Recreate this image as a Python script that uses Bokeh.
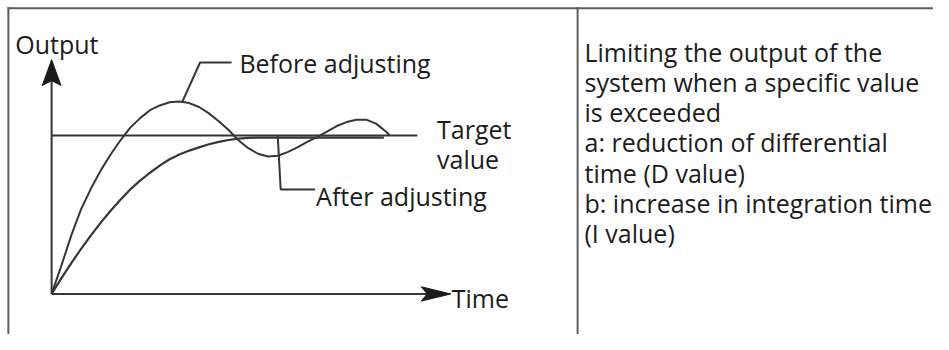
from bokeh.plotting import figure
from bokeh.models import Range1d, Label
from bokeh.embed import file_html
from bokeh.resources import INLINE

# ---- data (time in arbitrary units, output relative to target value) ----
time_before = [0, 0.125, 0.25, 0.5, 0.75, 1, 1.25, 1.5, 1.75, 2, 2.25, 2.5,
               2.75, 3, 3.25, 3.5, 3.75, 4, 4.25, 4.5, 4.75, 5, 5.25, 5.5,
               5.75, 6, 6.25, 6.5, 6.75, 7, 7.25, 7.5, 7.75, 8, 8.25, 8.5, 8.6]
output_before = [0, 0.09, 0.18, 0.37, 0.535, 0.665, 0.78, 0.88, 0.97, 1.05,
                 1.11, 1.16, 1.19, 1.21, 1.215, 1.205, 1.18, 1.14, 1.09, 1.035,
                 0.97, 0.92, 0.885, 0.868, 0.872, 0.895, 0.925, 0.96, 0.99,
                 1.025, 1.06, 1.085, 1.1, 1.1, 1.075, 1.025, 1.0]
time_after = [0, 0.25, 0.5, 0.75, 1, 1.25, 1.5, 1.75, 2, 2.25, 2.5, 2.75, 3,
              3.25, 3.5, 3.75, 4, 4.25, 4.5, 4.75, 5, 5.25, 8.45]
output_after = [0, 0.1, 0.195, 0.285, 0.37, 0.45, 0.525, 0.595, 0.66, 0.715,
                0.765, 0.81, 0.85, 0.88, 0.905, 0.925, 0.945, 0.96, 0.972,
                0.98, 0.985, 0.987, 0.987]
target_value = 1.0
target_time = [0, 9.3]

labels_axis = ["Output", "Time"]
label_before = "Before adjusting"
label_after = "After adjusting"
label_target = ["Target", "value"]
notes = ["Limiting the output of the",
         "system when a specific value",
         "is exceeded",
         "a: reduction of differential",
         "time (D value)",
         "b: increase in integration time",
         "(I value)"]

# ---- layout helpers (reference-pixel -> data units) ----
W, H = 933, 334
REF_W, REF_H = 949, 350
T0, Y0 = 52, 307.5        # origin in reference pixels
XS, YS = 40.0, 166.0      # px per time unit / per output unit


def px(X):
    return (X - T0) / XS


def py(Y):
    return (Y0 - Y) / YS


p = figure(width=W, height=H, output_backend="svg", toolbar_location=None,
           x_range=Range1d(px(0), px(REF_W)), y_range=Range1d(py(REF_H), py(0)),
           x_axis_type=None, y_axis_type=None, min_border=0,
           background_fill_color="white", border_fill_color="white",
           outline_line_color=None)
p.grid.visible = False

FRAME = "#5e5e5e"
INK = "#363636"
TXT = "#1c1c1c"
FONT = "Open Sans"
FS = "25px"

# frame
p.line([px(7), px(960)], [py(8), py(8)], line_color=FRAME, line_width=2)
p.line([px(8), px(8)], [py(7), py(360)], line_color=FRAME, line_width=2)
p.line([px(587), px(587)], [py(7), py(360)], line_color=FRAME, line_width=2)

# axes
p.line([0, 0], [0, py(80)], line_color=INK, line_width=2)
p.line([0, px(440)], [0, 0], line_color=INK, line_width=2)
p.patch([px(52), px(42.5), px(52), px(61.5)], [py(62), py(89), py(84), py(89)],
        fill_color="#1a1a1a", line_color="#1a1a1a", line_width=1)
p.patch([px(458), px(428), px(434), px(428)], [py(307.5), py(300), py(307.5), py(315)],
        fill_color="#1a1a1a", line_color="#1a1a1a", line_width=1)

# target, curves
p.line(target_time, [target_value] * 2, line_color=INK, line_width=2)
p.line(time_after, output_after, line_color=INK, line_width=2.2)
p.line(time_before, output_before, line_color=INK, line_width=2)

# leader lines
p.line([px(185), px(203), px(235)], [py(106), py(65), py(65)], line_color=INK, line_width=2)
p.line([px(282), px(285), px(320)], [py(142), py(198), py(198)], line_color=INK, line_width=2)


def lab(X, Y, t):
    p.add_layout(Label(x=px(X), y=py(Y), text=t, text_font=FONT,
                       text_font_size=FS, text_color=TXT,
                       text_baseline="alphabetic", text_align="left"))


lab(15, 46, labels_axis[0])
lab(459, 312, labels_axis[1])
lab(243, 65, label_before)
lab(321, 205, label_after)
lab(444, 135, label_target[0])
lab(444, 166, label_target[1])
for i, s in enumerate(notes):
    lab(594, 54 + 31.6 * i, s)

open("out.html", "w").write(file_html(p, INLINE))
